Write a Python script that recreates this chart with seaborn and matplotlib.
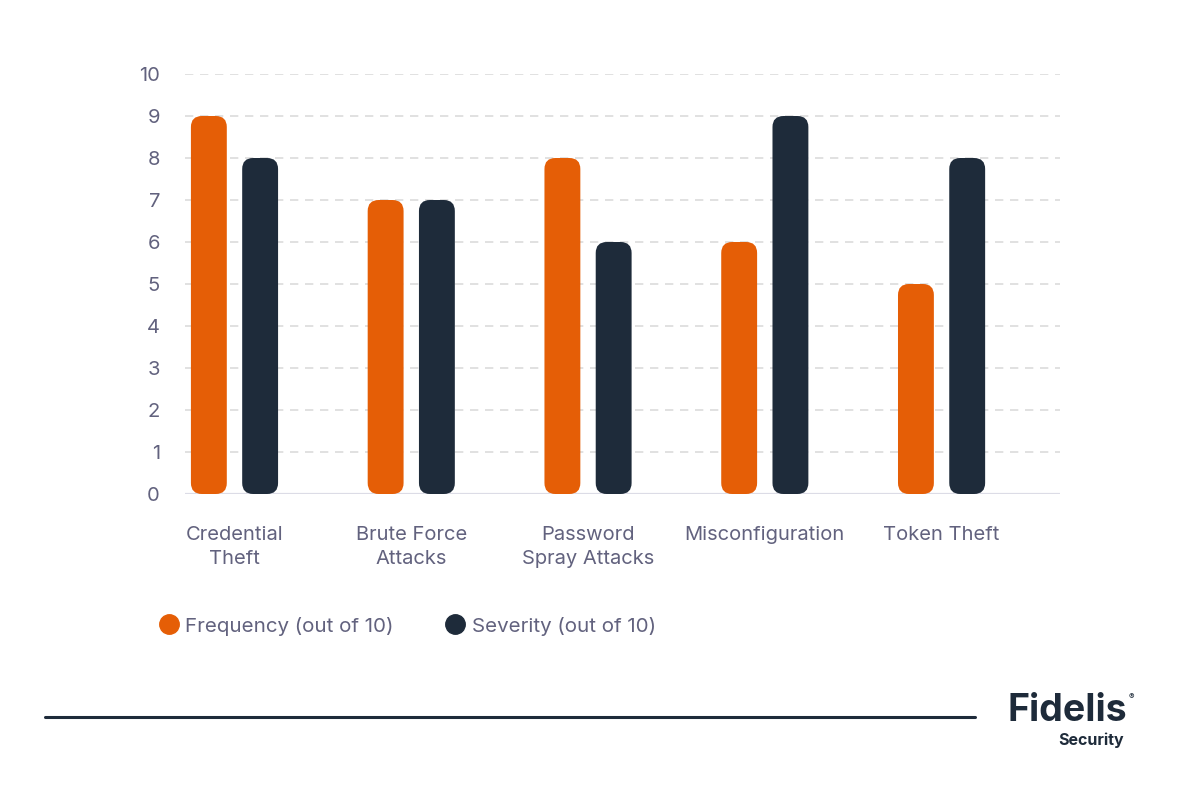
import pandas as pd
import numpy as np
import matplotlib.pyplot as plt
import seaborn as sns
from matplotlib.patches import FancyBboxPatch
from matplotlib.lines import Line2D


categories = ['Credential\nTheft', 'Brute Force\nAttacks', 'Password\nSpray Attacks',
	'Misconfiguration', 'Token Theft']
frequency = [9, 7, 8, 6, 5]
severity = [8, 7, 6, 9, 8]
series_names = ['Frequency (out of 10)', 'Severity (out of 10)']
series_colors = ['#E55E06', '#1E2B3A']
y_ticks = list(range(0, 11))

TEXT_COLOR = '#62627E'


def round_bars(ax, x_px, y_px, radius_px=11):
	# swap seaborn's square bars for rounded ones with the same bounds
	bars = list(ax.patches)
	for p in bars:
		x, y = p.get_x(), p.get_y()
		w, h = p.get_width(), p.get_height()
		color = p.get_facecolor()
		p.remove()
		r = radius_px / x_px
		fb = FancyBboxPatch((x, y), w, h,
			boxstyle='round,pad=0,rounding_size=%f' % r,
			mutation_aspect=x_px / y_px,
			facecolor=color, edgecolor='none', zorder=3)
		ax.add_patch(fb)


def main():
	sns.set_style('white')
	plt.rcParams['font.family'] = ['Inter', 'DejaVu Sans']

	data = pd.DataFrame({
		'category': categories * 2,
		'value': frequency + severity,
		'series': [series_names[0]] * len(categories) + [series_names[1]] * len(categories),
	})

	fig = plt.figure(figsize=(12, 7.9), dpi=100)
	ax = fig.add_axes([185 / 1200, 296 / 790, 875 / 1200, 420 / 790])

	sns.barplot(data=data, x='category', y='value', hue='series',
		palette=series_colors, width=0.58, gap=0.3, legend=False, ax=ax,
		saturation=1, errorbar=None)

	ax.set_xlim(-0.28, 4.67)
	ax.set_ylim(0, 10)

	# pixel scale of the data units, used for the corner radius
	x_px = 875 / (4.67 + 0.28)
	y_px = 420 / 10
	round_bars(ax, x_px, y_px)

	for v in y_ticks[1:]:
		ax.axhline(v, color='#DCDCDC', lw=1.2, ls=(0, (5, 4)), zorder=1)
	ax.axhline(0, color='#DCDCE6', lw=1.6, zorder=2)

	for s in ax.spines.values():
		s.set_visible(False)
	ax.set_yticks(y_ticks)
	ax.set_yticklabels([str(v) for v in y_ticks])
	ax.tick_params(axis='y', length=0, pad=18, labelsize=14.5, labelcolor=TEXT_COLOR)
	ax.tick_params(axis='x', length=0, pad=23, labelsize=14.5, labelcolor=TEXT_COLOR)
	for lab in ax.get_xticklabels():
		lab.set_linespacing(1.45)
	ax.set_xlabel('')
	ax.set_ylabel('')

	handles = [Line2D([], [], marker='o', ls='', markersize=14, color=c) for c in series_colors]
	fig.legend(handles, series_names, loc='center left', bbox_to_anchor=(138 / 1200, 1 - 626 / 790),
		ncol=2, frameon=False, fontsize=14.8, labelcolor=TEXT_COLOR,
		handletextpad=0.2, columnspacing=2.4, handlelength=1.2)

	fig.add_artist(Line2D([45 / 1200, 975 / 1200], [1 - 717 / 790, 1 - 717 / 790],
		color='#1E2B3A', lw=2.2))

	fig.text(1127 / 1200, 1 - 711 / 790, 'Fidelis', ha='right', va='center',
		fontsize=27, fontweight='bold', color='#1E2B3A')
	fig.text(1129 / 1200, 1 - 697 / 790, '®', ha='left', va='center',
		fontsize=6, color='#1E2B3A')
	fig.text(1124 / 1200, 1 - 740 / 790, 'Security', ha='right', va='center',
		fontsize=11.5, fontweight='bold', color='#1E2B3A')

	fig.savefig('out.png', dpi=100, facecolor='white')


if __name__ == '__main__':
	main()
